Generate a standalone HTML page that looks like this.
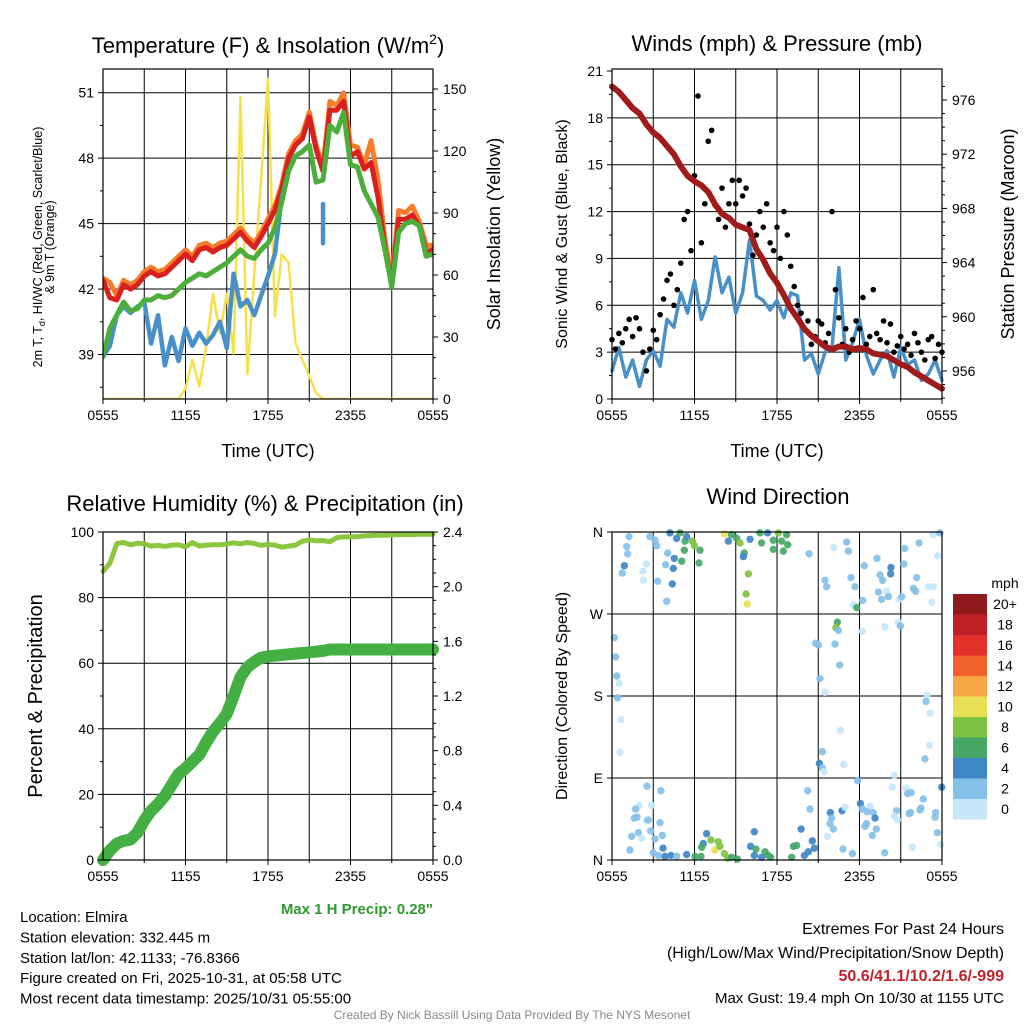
<!DOCTYPE html>
<html><head><meta charset="utf-8"><style>
body{margin:0;background:#fff}
svg{display:block;font-family:"Liberation Sans",sans-serif}
</style></head><body>
<svg id="c" width="1024" height="1024" viewBox="0 0 1024 1024"></svg>
<script>
// ---- data (hours from 0555 UTC, 0.5h steps unless noted) ----
const tickLabelsX = ["0555","1155","1755","2355","0555"];
const tempRed = [42.4,41.6,41.5,42.2,42.0,42.2,42.6,42.8,42.6,42.7,43.0,43.3,43.6,43.3,43.8,43.9,43.7,43.9,44.0,44.3,44.6,44.2,43.9,44.4,45.0,45.6,46.6,48.0,48.6,48.9,49.9,48.4,47.4,50.2,50.2,50.6,48.1,48.3,47.5,47.8,46.2,43.9,42.2,45.2,45.2,45.4,44.9,43.7,43.8];
const tempOrange = [42.5,42.3,41.7,42.4,42.2,42.4,42.8,43.0,42.8,42.9,43.2,43.5,43.8,43.5,44.0,44.1,43.9,44.1,44.2,44.5,44.8,44.4,44.1,44.6,45.2,45.8,46.8,48.2,48.8,49.1,50.1,48.6,47.6,50.6,50.4,51.0,48.6,48.5,47.7,48.8,47.0,44.3,42.4,45.6,45.5,45.8,45.1,44.0,44.0];
const tempGreen = [38.9,40.2,40.8,41.4,41.0,41.1,41.5,41.5,41.7,41.6,41.7,42.0,42.3,42.5,42.7,42.6,42.8,43.0,43.2,43.5,43.8,43.5,43.4,43.8,44.1,44.8,46.0,47.4,48.1,48.3,48.6,46.9,47.0,49.5,49.2,50.1,47.7,47.6,46.5,45.9,45.3,43.8,42.1,44.6,45.0,45.1,44.9,43.5,43.6];
const tempBlue = [38.9,39.4,40.8,41.2,40.9,41.2,41.4,39.5,40.8,38.5,39.8,38.7,40.2,39.4,40.0,39.5,39.9,40.5,39.3,42.7,41.2,41.5,40.8,41.7,42.6,43.6,46.2,47.4,48.1,48.3,48.6,46.9,47.0,49.5,49.2,50.1,47.7,47.6,46.5,45.9,45.3,43.8,42.1,44.6,45.0,45.1,44.9,43.5,43.6];
const blueSegHours = [16.0,16.0];
const blueSegTemps = [45.9,44.1];
const solar = [0,0,0,0,0,0,0,0,0,0,0,0,5,19,6,25,51,32,51,22,146,12,61,106,155,40,70,66,27,19,11,3,0,0,0,0,0,0,0,0,0,0,0,0,0,0,0,0,0];
const windSpeed = [1.8,3.3,1.4,2.5,0.8,2.5,3.1,2.1,5.1,4.6,6.8,5.5,7.6,5.1,6.3,9.1,6.8,7.8,5.5,6.8,10.2,6.6,6.3,5.7,6.3,5.2,6.8,6.6,2.5,2.9,1.6,3.0,3.3,8.4,2.5,3.6,5.1,2.8,1.6,2.5,3.1,1.4,3.3,2.2,2.5,1.2,1.6,2.5,1.2];
// gusts at 0.25h steps
const windGust = [3.8,3.2,4.2,3.6,4.5,5.1,4.0,5.2,4.5,3.0,1.8,3.2,4.4,3.8,5.4,6.4,7.6,8.0,6.0,7.0,8.7,11.5,12.0,9.5,14.3,19.4,10.0,12.5,16.5,17.2,12.4,11.5,13.5,11.0,12.5,14.0,12.5,14.0,13.0,13.5,11.2,9.2,10.5,12.0,11.0,12.5,10.0,9.5,11.0,9.0,12.0,10.5,8.5,7.2,6.0,5.5,4.5,5.0,3.5,4.0,5.0,4.8,3.6,4.2,12.0,7.0,5.2,3.5,4.5,3.0,3.8,5.0,4.5,6.5,3.5,4.0,7.0,4.2,3.8,5.0,3.6,4.8,3.0,3.4,4.0,3.2,3.5,2.8,4.2,3.6,3.0,2.5,3.8,4.0,2.6,3.5,3.0];
const pressure = [977.0,976.6,976.0,975.4,975.0,974.2,973.6,973.2,972.6,972.0,971.1,970.4,970.0,969.7,969.2,968.3,967.6,967.3,966.8,966.6,966.4,965.0,964.2,963.2,962.5,961.6,960.6,959.9,959.1,958.6,958.2,957.8,957.6,957.8,957.8,957.6,957.7,957.6,957.3,957.2,957.1,956.8,956.5,956.3,955.9,955.6,955.3,955.0,954.7];
const humidity = [88,90.5,96.5,96.8,96.1,96.6,96.4,95.7,95.9,95.6,96.0,96.1,95.5,96.8,95.7,96.0,96.1,96.1,96.3,96.7,96.4,96.8,96.5,95.9,96.2,96.0,95.4,95.7,96.0,97.2,97.6,97.3,97.4,97.0,98.3,98.5,98.5,98.6,98.8,98.9,99.0,99.0,99.1,99.2,99.2,99.2,99.3,99.3,99.3];
const precip = [0,0.07,0.12,0.14,0.15,0.2,0.29,0.36,0.41,0.47,0.55,0.63,0.67,0.72,0.77,0.86,0.94,1.0,1.07,1.2,1.34,1.41,1.45,1.48,1.49,1.495,1.5,1.505,1.51,1.515,1.52,1.525,1.53,1.54,1.54,1.54,1.54,1.54,1.54,1.54,1.54,1.54,1.54,1.54,1.54,1.54,1.54,1.54,1.54];
const dirHours = [1.24,2.76,3.13,3.25,1.07,1.14,0.9,0.75,2.5,2.25,2.28,3.32,3.98,3.9,4.05,4.53,4.46,4.39,4.22,4.7,4.95,5.31,5.26,5.84,5.99,6.4,5.07,6.33,5.43,8.17,8.46,8.7,9.07,9.31,9.62,9.55,10.04,9.92,9.75,9.84,10.76,11.32,11.73,12.1,12.34,12.78,10.88,12.7,11.73,12.46,14.33,16.12,17.07,17.19,17.38,17.67,17.55,17.8,15.49,15.61,18.35,19.27,19.68,19.49,20.29,20.27,19.98,20.1,19.37,19.61,20.9,21.07,21.24,21.28,22.16,21.92,22.08,22.33,23.0,23.37,23.25,23.68,23.37,23.85,18.23,
16.39,16.29,16.46,14.81,15.0,16.22,16.56,15.13,15.49,0.17,0.27,0.34,0.51,0.41,0.65,0.58,18.21,19.85,20.82,20.97,22.91,22.84,23.15,16.61,15.3,15.08,15.3,15.42,16.85,23.08,22.76,
2.55,3.56,1.99,1.72,2.88,1.62,1.82,2.5,2.64,3.49,1.92,1.43,2.16,2.81,3.13,3.66,1.31,3.0,3.71,3.37,3.85,4.29,4.7,5.43,6.04,6.47,6.64,6.88,7.2,7.49,7.85,7.73,8.17,8.41,8.7,9.12,6.52,10.35,10.08,10.47,10.35,11.13,11.37,11.54,10.88,13.19,13.43,13.07,13.75,13.99,14.28,14.57,14.72,14.23,14.4,15.88,15.98,15.85,16.1,15.68,16.73,16.95,18.06,17.87,18.21,18.76,18.55,19.0,19.13,18.52,18.4,19.22,18.93,20.7,20.53,20.75,20.53,20.39,21.38,21.5,21.75,21.6,21.72,22.47,22.64,22.4,23.54,23.49,23.66,23.98,23.9,21.84,19.83,17.48,16.8];
const dirDeg = [355,355,351,345,344,336,323,315,325,317,307,306,284,324,337,331,320,303,359,353,359,350,340,350,345,340,328,326,355,358,350,357,353,348,337,333,352,314,292,281,359,359,351,359,350,346,348,357,341,339,336,343,349,339,310,300,280,277,307,300,323,331,307,313,321,314,295,289,294,286,286,289,325,342,310,298,295,348,300,300,283,334,357,359,285,
261,255,252,238,236,237,214,199,184,244,223,202,194,178,154,118,251,256,261,257,181,174,161,142,119,106,101,97,105,126,111,
81,76,60,56,60,46,47,43,44,41,30,26,24,32,23,27,11,8,13,5,4,5,4,6,4,4,18,29,22,11,15,20,7,2,3,1,14,31,15,12,5,9,5,3,3,15,16,3,34,5,9,21,13,76,56,52,46,40,34,26,54,58,62,87,56,59,53,52,46,40,37,34,27,54,48,44,93,80,79,73,74,51,52,57,67,55,52,47,30,80,17,14,8,7,12];
const dirSpeed = [2,2,2,2,2,2,4,2,0,0,0,2,2,2,2,4,4,4,4,4,6,6,6,8,8,6,6,6,4,10,4,6,6,8,6,4,4,8,8,10,6,4,6,8,6,6,6,6,6,6,2,0,2,2,2,2,0,6,2,2,2,2,2,2,4,4,0,2,2,2,0,2,2,2,2,2,2,2,0,0,0,0,0,2,2,
6,8,2,2,2,2,2,2,0,2,2,2,0,2,0,0,0,0,0,2,0,2,0,0,2,4,2,0,0,0,2,
2,2,0,2,0,2,2,0,2,2,2,2,0,2,2,2,2,2,4,2,4,4,2,4,6,6,4,4,8,10,8,8,8,8,6,6,6,4,4,6,4,6,6,6,4,6,6,6,4,4,4,4,4,2,2,4,2,2,2,0,4,0,4,2,2,0,2,2,4,2,2,2,2,2,0,0,0,0,0,2,2,2,2,2,2,2,2,2,2,4,0,0,2,2,2];
const legendLabels = ["20+","18","16","14","12","10","8","6","4","2","0"];
const legendColors = ["#8f1a1c","#c01f27","#e3302b","#f0612b","#f7a645","#e8df52","#7ec242","#46a766","#3f86c4","#85c0e8","#c4e8fa"];

const svg = document.getElementById('c');
const NS = "http://www.w3.org/2000/svg";
function mk(tag, attrs, parent){const e=document.createElementNS(NS,tag);for(const k in attrs)e.setAttribute(k,attrs[k]);(parent||svg).appendChild(e);return e;}
function txt(x,y,s,size,anchor,parent,extra){const t=mk('text',Object.assign({x:x,y:y,'font-size':size,'text-anchor':anchor||'middle',fill:'#000'},extra||{}),parent);t.textContent=s;return t;}

function panel(name,x0,y0,x1,y1){
  const g=mk('g',{});
  
  
  return {g,x0,y0,x1,y1,sx:h=>x0+h/24*(x1-x0)};
}
function frame(p,hgrid){
  for(let i=1;i<8;i++){const x=p.sx(i*3);mk('line',{x1:x,x2:x,y1:p.y0,y2:p.y1,stroke:'#000','stroke-width':1},p.g);}
  hgrid.forEach(y=>mk('line',{x1:p.x0,x2:p.x1,y1:y,y2:y,stroke:'#000','stroke-width':1},p.g));
  const ax=mk('g',{},p.g);
  
  
  tickLabelsX.forEach((l,i)=>{const x=p.sx(i*6);mk('line',{x1:x,x2:x,y1:p.y1,y2:p.y1+5,stroke:'#000'},ax);txt(x,p.y1+21,l,14,'middle',ax);});
  for(let i=1;i<8;i+=2){const x=p.sx(i*3);mk('line',{x1:x,x2:x,y1:p.y1,y2:p.y1+3,stroke:'#000'},ax);}
}
function border(p){mk('rect',{x:p.x0,y:p.y0,width:p.x1-p.x0,height:p.y1-p.y0,fill:'none',stroke:'#000','stroke-width':1.2},p.g);}
function line(p,vals,sy,color,w,name,step){
  step=step||0.5;
  const d=vals.map((v,i)=>(i?'L':'M')+p.sx(i*step).toFixed(1)+','+sy(v).toFixed(1)).join('');
  const e=mk('path',{d:d,fill:'none',stroke:color,'stroke-width':w,'stroke-linejoin':'round','stroke-linecap':'round'},p.g);
  
  
}
function yTicks(p,vals,sy,side,fmt,minor){
  vals.forEach(v=>{const y=sy(v);
    if(side==='l'){mk('line',{x1:p.x0-5,x2:p.x0,y1:y,y2:y,stroke:'#000'},p.g);txt(p.x0-9,y+5,fmt(v),14,'end',p.g);}
    else{mk('line',{x1:p.x1,x2:p.x1+5,y1:y,y2:y,stroke:'#000'},p.g);txt(p.x1+10,y+5,fmt(v),14,'start',p.g);}
  });
  (minor||[]).forEach(v=>{const y=sy(v);
    if(y<p.y0-0.5||y>p.y1+0.5)return;
    if(side==='l')mk('line',{x1:p.x0-3,x2:p.x0,y1:y,y2:y,stroke:'#000'},p.g);
    else mk('line',{x1:p.x1,x2:p.x1+3,y1:y,y2:y,stroke:'#000'},p.g);
  });
}

// ---- Panel 1: temperature ----
{
const p=panel('temperature-panel',103,69,433,399);
const ty=v=>92.7+(51-v)/3*65.45, sy=v=>399-v/150*310;
frame(p,[39,42,45,48,51].map(ty));
const cp=mk('clipPath',{id:'cp1'},p.g);
mk('rect',{x:p.x0,y:p.y0,width:p.x1-p.x0,height:p.y1-p.y0},cp);
const inner=mk('g',{'clip-path':'url(#cp1)'},p.g);
const q={g:inner,sx:p.sx};
line(q,solar,sy,'#f8e04a',2.5,'solar-insolation-line');
line(q,tempOrange,ty,'#f47c2a',5,'9m-temp-line');
line(q,tempRed,ty,'#d8201f',5,'2m-temp-line');
line(q,tempBlue,ty,'#4a90c8',4.5,'wind-chill-line');
line(q,tempGreen,ty,'#4caf3c',5,'dewpoint-line');
const bs=mk('path',{d:'M'+p.sx(blueSegHours[0])+','+ty(blueSegTemps[0])+'L'+p.sx(blueSegHours[1])+','+ty(blueSegTemps[1]),stroke:'#4a90c8','stroke-width':4.5,'stroke-linecap':'round'},inner);


border(p);
yTicks(p,[39,42,45,48,51],ty,'l',v=>v,[37.5,40.5,43.5,46.5,49.5]);
yTicks(p,[0,30,60,90,120,150],sy,'r',v=>v,[10,20,40,50,70,80,100,110,130,140]);
const t=txt(268,53,'',22,'middle',p.g);
t.innerHTML='Temperature (F) &amp; Insolation (W/m<tspan dy="-9" font-size="14">2</tspan><tspan dy="9">)</tspan>';
txt(268,457,'Time (UTC)',18,'middle',p.g);
const yl=mk('text',{transform:'translate(42,247) rotate(-90)','font-size':12.5,'text-anchor':'middle'},p.g);
yl.innerHTML='<tspan x="0" dy="0">2m T, T<tspan font-size="9" dy="3">d</tspan><tspan dy="-3">, HI/WC (Red, Green, Scarlet/Blue)</tspan></tspan><tspan x="0" dy="12">&amp; 9m T (Orange)</tspan>';
mk('text',{transform:'translate(500,234) rotate(-90)','font-size':18,'text-anchor':'middle'},p.g).textContent='Solar Insolation (Yellow)';
}

// ---- Panel 2: winds ----
{
const p=panel('winds-panel',612,69,942,399);
const wy=v=>399-v/21*328, py=v=>100+(976-v)/4*54.2;
frame(p,[3,6,9,12,15,18].map(wy));
line(p,windSpeed,wy,'#4a90c8',3.5,'sonic-wind-line');
windGust.forEach((v,i)=>{const c=mk('circle',{cx:p.sx(i*0.25),cy:wy(v),r:2.8,fill:'#000'},p.g);
 
 });
line(p,pressure,py,'#a01c1c',6,'pressure-line');
border(p);
yTicks(p,[0,3,6,9,12,15,18,21],wy,'l',v=>v,[1.5,4.5,7.5,10.5,13.5,16.5,19.5]);
yTicks(p,[956,960,964,968,972,976],py,'r',v=>v,[954,955,957,958,959,961,962,963,965,966,967,969,970,971,973,974,975,977]);
txt(777,51,'Winds (mph) & Pressure (mb)',22,'middle',p.g);
txt(777,457,'Time (UTC)',18,'middle',p.g);
mk('text',{transform:'translate(567,234) rotate(-90)','font-size':16,'text-anchor':'middle'},p.g).textContent='Sonic Wind & Gust (Blue, Black)';
mk('text',{transform:'translate(1014,234) rotate(-90)','font-size':18,'text-anchor':'middle'},p.g).textContent='Station Pressure (Maroon)';
}

// ---- Panel 3: RH & precip ----
{
const p=panel('humidity-panel',103,532,433,860);
const hy=v=>860-v/100*328, ry=v=>860-v/2.4*328;
frame(p,[20,40,60,80,100].map(hy));
line(p,humidity,hy,'#8cc63f',5,'humidity-line');
line(p,precip,ry,'#44b044',12,'precip-line');
border(p);
yTicks(p,[0,20,40,60,80,100],hy,'l',v=>v,[10,30,50,70,90]);
yTicks(p,[0,0.4,0.8,1.2,1.6,2.0,2.4],ry,'r',v=>v.toFixed(1),[0.1,0.2,0.3,0.5,0.6,0.7,0.9,1.0,1.1,1.3,1.4,1.5,1.7,1.8,1.9,2.1,2.2,2.3]);
txt(265,511,'Relative Humidity (%) & Precipitation (in)',22,'middle',p.g);
mk('text',{transform:'translate(42,696) rotate(-90)','font-size':20,'text-anchor':'middle'},p.g).textContent='Percent & Precipitation';
txt(433,914,'Max 1 H Precip: 0.28"',15,'end',p.g,{fill:'#2e9a2e','font-weight':'bold'});
}

// ---- Panel 4: wind direction ----
{
const p=panel('wind-direction-panel',612,532,942,860);
const dy=v=>860-v/360*328;
frame(p,[90,180,270].map(dy));
dirHours.forEach((h,i)=>{const s=dirSpeed[i];const idx=Math.max(0,10-Math.round(Math.min(s,20)/2));
 const c=mk('circle',{cx:p.sx(h),cy:dy(dirDeg[i]),r:3.7,fill:legendColors[idx],'fill-opacity':0.92},p.g);
 
 });
border(p);
['N','E','S','W','N'].forEach((l,i)=>{const y=dy(i*90);mk('line',{x1:p.x0-5,x2:p.x0,y1:y,y2:y,stroke:'#000'},p.g);txt(p.x0-9,y+5,l,14,'end',p.g);});
txt(778,504,'Wind Direction',22,'middle',p.g);
mk('text',{transform:'translate(567,696) rotate(-90)','font-size':16,'text-anchor':'middle'},p.g).textContent='Direction (Colored By Speed)';
const lg=mk('g',{},p.g);


txt(1005,588,'mph',14,'middle',lg);
legendColors.forEach((c,i)=>{mk('rect',{x:953,y:594+i*20.5,width:34,height:20.5,fill:c},lg);txt(1005,609+i*20.5,legendLabels[i],14,'middle',lg);});
}

// ---- footer text ----
const ft=mk('g',{});


["Location: Elmira","Station elevation: 332.445 m","Station lat/lon: 42.1133; -76.8366","Figure created on Fri, 2025-10-31, at 05:58 UTC","Most recent data timestamp: 2025/10/31 05:55:00"].forEach((s,i)=>txt(20,922+i*20.4,s,15,'start',ft));
const ex=mk('g',{});


txt(1004,934,'Extremes For Past 24 Hours',16,'end',ex);
txt(1004,958,'(High/Low/Max Wind/Precipitation/Snow Depth)',16,'end',ex);
txt(1004,981,'50.6/41.1/10.2/1.6/-999',16,'end',ex,{fill:'#c0232a','font-weight':'bold'});
txt(1004,1003,'Max Gust: 19.4 mph On 10/30 at 1155 UTC',15,'end',ex);
txt(512,1019,'Created By Nick Bassill Using Data Provided By The NYS Mesonet',12,'middle',ex,{fill:'#888'});
</script>
</body></html>
